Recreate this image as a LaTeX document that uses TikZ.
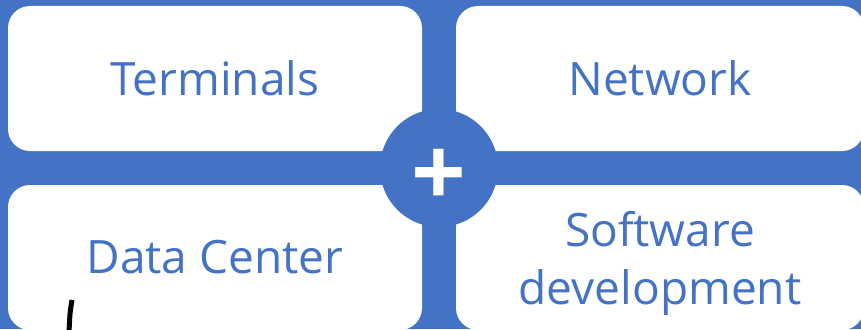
\documentclass[tikz,border=0pt]{standalone}
\usepackage{fontspec}
\setmainfont{Open Sans}
\definecolor{tileblue}{HTML}{4472C4}
\begin{document}
\begin{tikzpicture}[
    x=1pt, y=-1pt,
    every node/.style={font=\fontsize{46}{58}\selectfont, text=tileblue},
    tile/.style={rectangle, rounded corners=22pt, fill=white, minimum width=414pt, minimum height=145pt, align=center, inner sep=0pt}
]
\useasboundingbox (0,0) rectangle (861,329);
\clip (0,0) rectangle (861,329);
\fill[tileblue] (0,0) rectangle (861,329);
\node (terminals) [tile] at (215,78.5) {Terminals};
\node (network) [tile, minimum width=408pt] at (660,78.5) {Network};
\node (datacenter) [tile] at (215,257.5) {Data Center};
\node (software) [tile, minimum width=408pt, text depth=0pt] at (660,257.5) {Software\\development};
\node (hub) [circle, fill=tileblue, minimum size=118pt] at (439,168) {};
\node (plus) [text=white, font=\fontsize{96}{96}\selectfont\bfseries, inner sep=0pt, yshift=-10pt] at (hub.center) {+};
\draw[line width=5pt] (72,300) .. controls (70,312) .. (69,332);
\end{tikzpicture}
\end{document}
